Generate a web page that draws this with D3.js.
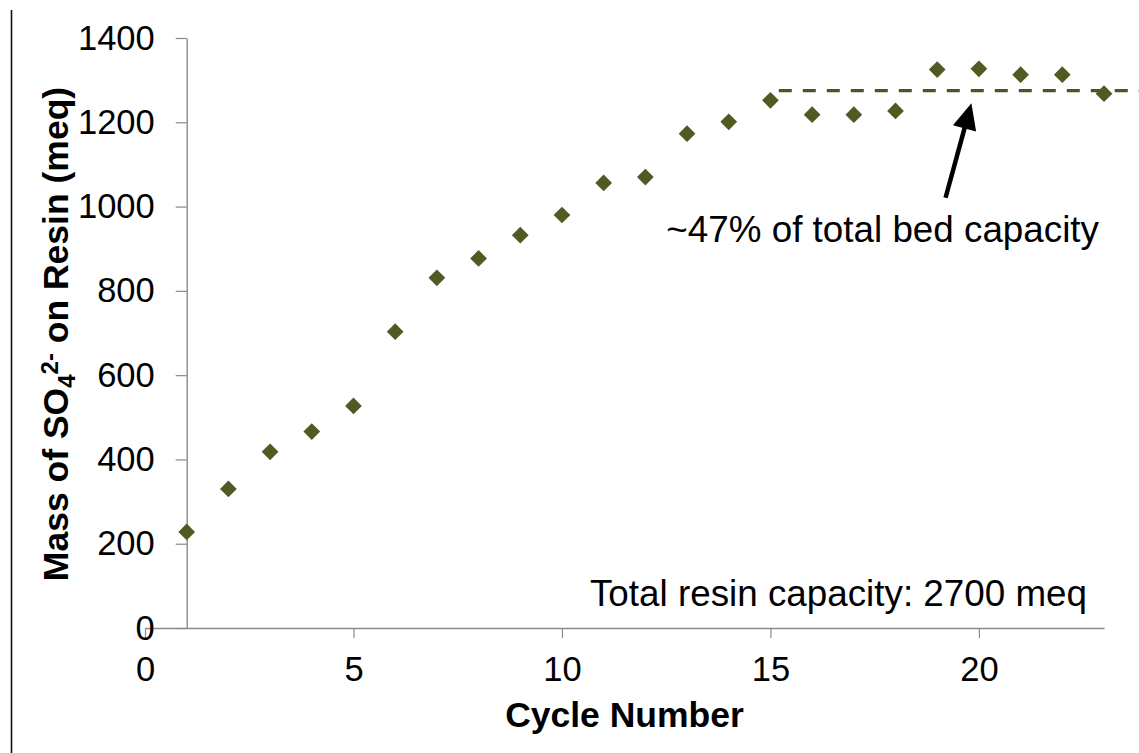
<!DOCTYPE html>
<html>
<head>
<meta charset="utf-8">
<script src="https://cdn.jsdelivr.net/npm/d3@7/dist/d3.min.js"></script>
<style>
  html, body { margin: 0; padding: 0; background: #fff; }
  svg { display: block; }
  text { font-family: "Liberation Sans", Arial, sans-serif; fill: #000; }
</style>
</head>
<body>
<svg id="chart" width="1139" height="753"></svg>
<script>
// Sulfate loading on the resin bed over successive cycles
const cycles = [1, 2, 3, 4, 5, 6, 7, 8, 9, 10, 11, 12, 13, 14, 15, 16, 17, 18, 19, 20, 21, 22, 23];
const sulfateMeq = [228, 330, 418, 466, 527, 703, 831, 877, 932, 980, 1056, 1070, 1173, 1201, 1252,
                    1218, 1218, 1227, 1325, 1327, 1313, 1313, 1268];

const xTicks = [0, 5, 10, 15, 20];
const yTicks = [0, 200, 400, 600, 800, 1000, 1200, 1400];

// Plateau level (~47% of the 2700 meq bed) and the span it is drawn over
const plateauMeq = 1275;
const plateauFrom = 15.2;
const plateauTo = 24;

// Arrow pointing at the plateau, in data units
const arrowTail = { cycle: 19.2, meq: 1021 };
const arrowTip = { cycle: 19.82, meq: 1245 };

const plateauLabel = "~47% of total bed capacity";
const capacityLabel = "Total resin capacity: 2700 meq";

const svg = d3.select("#chart");
const W = 1139, H = 753;
svg.append("rect").attr("width", W).attr("height", H).attr("fill", "#fff");

const x = d3.scaleLinear().domain([0, 23]).range([145, 1104]);
const y = d3.scaleLinear().domain([0, 1400]).range([628, 38]);

const axisColor = "#8a8a8a";
const markColor = "#4f5b22";
const fmt = d3.format("d");

// Left frame edge
svg.append("line")
  .attr("x1", 11.5).attr("x2", 11.5).attr("y1", 10).attr("y2", H)
  .attr("stroke", "#111").attr("stroke-width", 1.6);

// X axis
const gx = svg.append("g")
  .attr("transform", `translate(0,${y(0)})`)
  .call(d3.axisBottom(x).tickValues(xTicks).tickFormat(fmt).tickSize(10).tickSizeOuter(0).tickPadding(18.5));
gx.select(".domain").attr("stroke", axisColor).attr("stroke-width", 1.4);
gx.selectAll(".tick line").attr("stroke", axisColor).attr("stroke-width", 1.2);
gx.selectAll(".tick text")
  .attr("font-size", 34.5).attr("font-family", "Liberation Sans, Arial, sans-serif").attr("fill", "#000");

// Y axis, crossing the x axis at cycle 1
const gy = svg.append("g")
  .attr("transform", `translate(${x(1)},0)`)
  .call(d3.axisLeft(y).tickValues(yTicks).tickFormat(fmt).tickSize(11).tickSizeOuter(0).tickPadding(21));
gy.select(".domain").attr("stroke", axisColor).attr("stroke-width", 1.4);
gy.selectAll(".tick line").attr("stroke", axisColor).attr("stroke-width", 1.2);
gy.selectAll(".tick text")
  .attr("font-size", 34.5).attr("font-family", "Liberation Sans, Arial, sans-serif").attr("fill", "#000");

// Axis titles
svg.append("text")
  .attr("x", x(11.5)).attr("y", 727)
  .attr("text-anchor", "middle")
  .attr("font-size", 35.5).attr("font-weight", "bold")
  .text("Cycle Number");

const yt = svg.append("text")
  .attr("transform", "translate(68,334) rotate(-90)")
  .attr("text-anchor", "middle")
  .attr("font-size", 35.5).attr("font-weight", "bold");
yt.append("tspan").text("Mass of SO");
yt.append("tspan").attr("font-size", 24).attr("dy", 7).text("4");
yt.append("tspan").attr("font-size", 24).attr("dy", -17).text("2-");
yt.append("tspan").attr("dy", 10).text(" on Resin (meq)");

// Plateau dashed line
svg.append("line")
  .attr("x1", x(plateauFrom)).attr("x2", x(plateauTo))
  .attr("y1", y(plateauMeq)).attr("y2", y(plateauMeq))
  .attr("stroke", "#4c5725").attr("stroke-width", 3.2)
  .attr("stroke-dasharray", "13 11");

// Data markers (diamonds)
const pts = cycles.map((c, i) => ({ c, v: sulfateMeq[i] }));
svg.append("g").selectAll("path")
  .data(pts)
  .join("path")
  .attr("d", d3.symbol(d3.symbolSquare, 140))
  .attr("transform", d => `translate(${x(d.c)},${y(d.v)}) rotate(45)`)
  .attr("fill", markColor);

// Arrow to the plateau
const ax1 = x(arrowTail.cycle), ay1 = y(arrowTail.meq);
const ax2 = x(arrowTip.cycle), ay2 = y(arrowTip.meq);
const ang = Math.atan2(ay2 - ay1, ax2 - ax1);
const headLen = 26, headHalf = 12;
const bx = ax2 - headLen * Math.cos(ang), by = ay2 - headLen * Math.sin(ang);
svg.append("line")
  .attr("x1", ax1).attr("y1", ay1).attr("x2", bx + 2 * Math.cos(ang)).attr("y2", by + 2 * Math.sin(ang))
  .attr("stroke", "#000").attr("stroke-width", 4.5);
svg.append("path")
  .attr("d", `M${ax2},${ay2}L${bx + headHalf * Math.sin(ang)},${by - headHalf * Math.cos(ang)}L${bx - headHalf * Math.sin(ang)},${by + headHalf * Math.cos(ang)}Z`)
  .attr("fill", "#000");

// Annotations
svg.append("text")
  .attr("x", 1099).attr("y", 242)
  .attr("text-anchor", "end")
  .attr("font-size", 36.8)
  .text(plateauLabel);

svg.append("text")
  .attr("x", 1087).attr("y", 606)
  .attr("text-anchor", "end")
  .attr("font-size", 36.8)
  .text(capacityLabel);
</script>
</body>
</html>
